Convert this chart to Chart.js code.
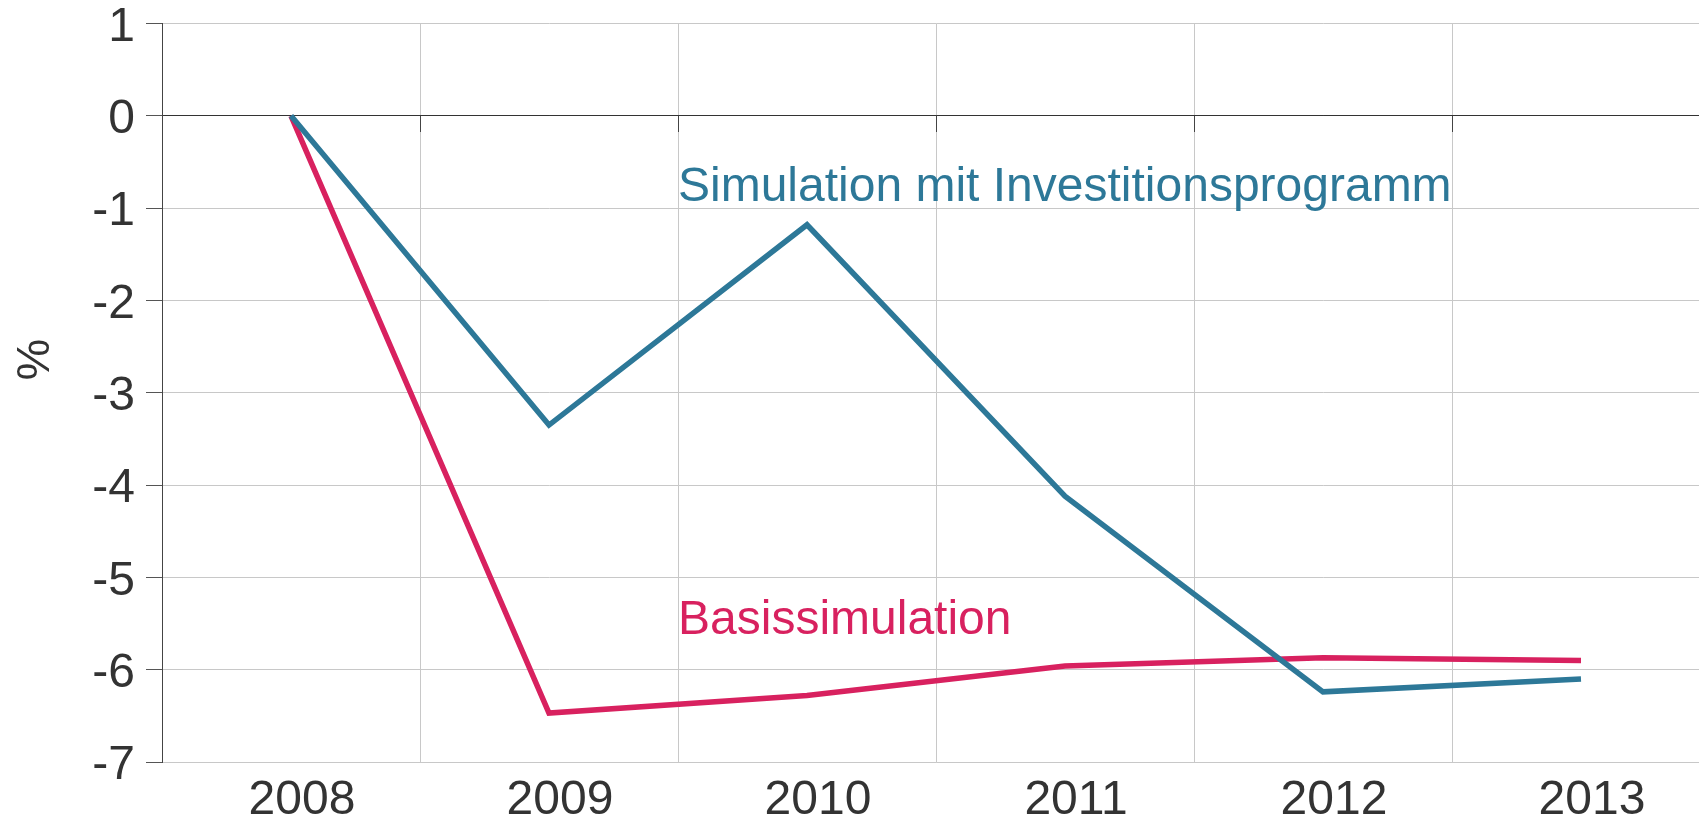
<!DOCTYPE html>
<html><head><meta charset="utf-8">
<script src="https://cdn.jsdelivr.net/npm/chart.js@4/dist/chart.umd.min.js"></script>
<style>
html,body{margin:0;padding:0;overflow:hidden;background:#fff;width:1699px;height:820px}
#wrap{position:absolute;left:0;top:0;width:1720px;height:820px}
</style></head>
<body><div id="wrap"><canvas id="c"></canvas></div>
<script>
const years = ['2008','2009','2010','2011','2012','2013'];
const investSeries = [0, -3.35, -1.18, -4.12, -6.24, -6.10];
const basisSeries = [0, -6.47, -6.28, -5.96, -5.87, -5.90];
const yTicks = [1, 0, -1, -2, -3, -4, -5, -6, -7];
const seriesNames = ['Simulation mit Investitionsprogramm', 'Basissimulation'];
const axisTitle = '%';

const BLUE = '#2d7898';
const PINK = '#d8215f';
const TEXT = '#333333';
const GRID = '#c8c8c8';
const FONT = '"Liberation Sans", Arial, Helvetica, sans-serif';

const labelPlugin = {
  id: 'inlineLabels',
  afterDatasetsDraw(chart) {
    const {ctx, scales: {x, y}} = chart;
    ctx.save();
    ctx.font = '48px ' + FONT;
    ctx.textAlign = 'left';
    ctx.textBaseline = 'alphabetic';
    const lx = (x.getPixelForValue(1) + x.getPixelForValue(2)) / 2;
    ctx.fillStyle = BLUE;
    ctx.fillText(seriesNames[0], lx, y.getPixelForValue(-0.92));
    ctx.fillStyle = PINK;
    ctx.fillText(seriesNames[1], lx, y.getPixelForValue(-5.61));
    ctx.restore();
    ctx.save();
    ctx.translate(36, y.getPixelForValue(-2.64));
    ctx.rotate(-Math.PI / 2);
    ctx.font = '47px ' + FONT;
    ctx.fillStyle = TEXT;
    ctx.textAlign = 'center';
    ctx.textBaseline = 'middle';
    ctx.fillText(axisTitle, 0, 0);
    ctx.restore();
  }
};

new Chart(document.getElementById('c'), {
  type: 'line',
  data: {
    labels: years,
    datasets: [
      {label: seriesNames[0], data: investSeries, borderColor: BLUE, borderWidth: 5.5,
       pointRadius: 0, tension: 0, borderJoinStyle: 'miter', fill: false},
      {label: seriesNames[1], data: basisSeries, borderColor: PINK, borderWidth: 5.5,
       pointRadius: 0, tension: 0, borderJoinStyle: 'miter', fill: false}
    ]
  },
  options: {
    responsive: true,
    maintainAspectRatio: false,
    animation: false,
    events: [],
    layout: {padding: {left: 0, right: 10, top: 23.5, bottom: 0}},
    plugins: {legend: {display: false}, tooltip: {enabled: false}, title: {display: false}},
    scales: {
      x: {
        type: 'category',
        position: 'bottom',
        offset: true,
        grid: {offset: true, color: GRID, lineWidth: 1, drawTicks: false},
        border: {display: true, color: GRID, width: 1},
        ticks: {color: TEXT, font: {family: FONT, size: 48, lineHeight: 1}, padding: 15, labelOffset: 11, maxRotation: 0, autoSkip: false},
        afterFit(s) { s.height = 58; }
      },
      x2: {
        type: 'category',
        axis: 'x',
        position: {y: 0},
        offset: true,
        labels: years,
        grid: {offset: true, drawOnChartArea: false, drawTicks: true, tickLength: 16, tickColor: '#444', lineWidth: 1},
        border: {display: true, color: '#333', width: 1},
        ticks: {display: false}
      },
      y: {
        type: 'linear',
        position: 'left',
        min: -7, max: 1,
        afterBuildTicks(s) { s.ticks = yTicks.map(v => ({value: v})); },
        grid: {
          color: c => (c.tick && c.tick.value === 0) ? '#333' : GRID,
          tickColor: '#555', tickLength: 16, lineWidth: 1
        },
        border: {display: true, color: '#444', width: 1},
        ticks: {color: TEXT, font: {family: FONT, size: 48, lineHeight: 0.4}, padding: 11, labelOffset: 4,
                callback: v => String(v)},
        afterFit(s) { s.width = 162; }
      }
    }
  },
  plugins: [labelPlugin]
});
</script>
</body></html>
